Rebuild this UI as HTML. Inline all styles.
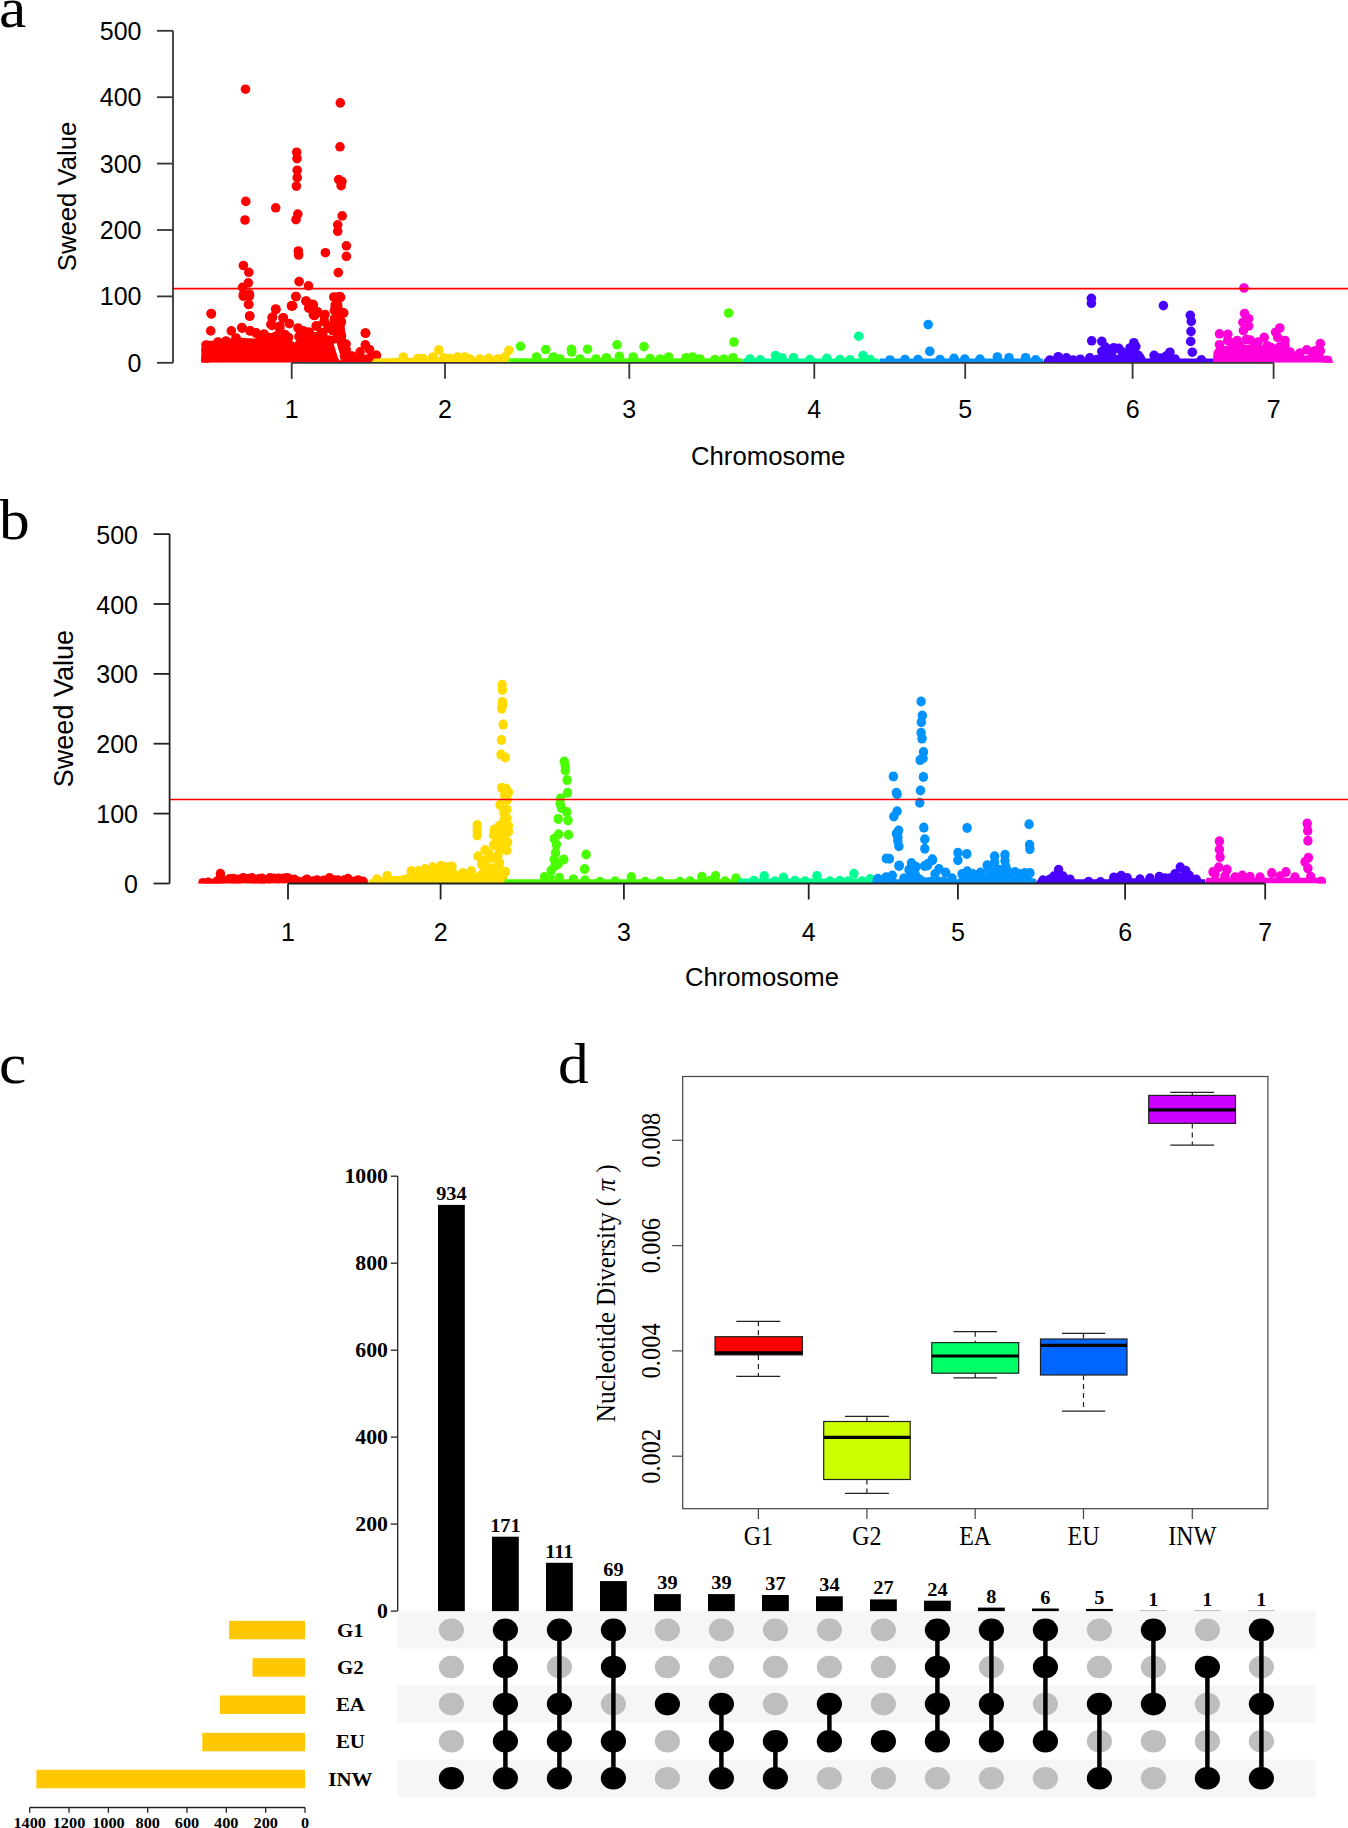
<!DOCTYPE html><html><head><meta charset="utf-8"><title>Figure</title>
<style>html,body{margin:0;padding:0;background:#fff;width:1348px;height:1828px;overflow:hidden}svg{display:block}</style></head><body>
<svg width="1348" height="1828" viewBox="0 0 1348 1828">
<rect width="1348" height="1828" fill="#fff"/>
<text transform="translate(-1 27.4) scale(1.0600 1.0000)" font-family='"Liberation Serif", serif' font-size="58" text-anchor="start" fill="#000">a</text>
<text transform="translate(-1 539) scale(1.0600 1.0000)" font-family='"Liberation Serif", serif' font-size="58" text-anchor="start" fill="#000">b</text>
<text transform="translate(-1 1083) scale(1.0600 1.0000)" font-family='"Liberation Serif", serif' font-size="58" text-anchor="start" fill="#000">c</text>
<text transform="translate(558 1083.4) scale(1.0600 1.0000)" font-family='"Liberation Serif", serif' font-size="58" text-anchor="start" fill="#000">d</text>
<clipPath id="clipA"><rect x="173" y="30.8" width="1175" height="332"/></clipPath>
<g clip-path="url(#clipA)">
<polygon points="201,362.8 201.5,348 203,343 206,341 215,340.5 228,339.5 236,336 243,338 255,338.5 262,338 266,334 275,334 285,336 290,339.5 294.5,342.5 298,339 302,335 310,332 320,332 326,335 333,336 335,320 338,302 342,302 344,320 346,340 350,350 356,357 362,355 370,354 378,356 380,362.8" fill="#FF0000"/>
<polygon points="333.6,343.5 336.8,343.3 338.6,350 341.2,357.5 340.2,361 338.2,358.5 335.8,351" fill="#fff"/>
<g fill="#FF0000"><circle cx="245.5" cy="89.2" r="4.8"/><circle cx="340.3" cy="102.9" r="4.8"/><circle cx="340" cy="146.8" r="4.8"/><circle cx="296.7" cy="152.2" r="4.8"/><circle cx="297" cy="158.6" r="4.8"/><circle cx="297.2" cy="170.2" r="4.8"/><circle cx="297.2" cy="177.7" r="4.8"/><circle cx="296.4" cy="186.1" r="4.8"/><circle cx="338.7" cy="179.6" r="4.8"/><circle cx="341.9" cy="181.5" r="4.8"/><circle cx="341.1" cy="185.7" r="4.8"/><circle cx="245.8" cy="201.4" r="4.8"/><circle cx="275.7" cy="207.8" r="4.8"/><circle cx="245" cy="220" r="4.8"/><circle cx="297.8" cy="214.1" r="4.8"/><circle cx="296" cy="219.6" r="4.8"/><circle cx="342.2" cy="215.9" r="4.8"/><circle cx="337.7" cy="224.8" r="4.8"/><circle cx="337.7" cy="231.3" r="4.8"/><circle cx="346.4" cy="245.8" r="4.8"/><circle cx="346.4" cy="256.4" r="4.8"/><circle cx="325.4" cy="252.7" r="4.8"/><circle cx="298.3" cy="251" r="4.8"/><circle cx="298.6" cy="255" r="4.8"/><circle cx="338.3" cy="272.6" r="4.8"/><circle cx="243.4" cy="265.5" r="4.8"/><circle cx="248.8" cy="272.3" r="4.8"/><circle cx="248.3" cy="282.9" r="4.8"/><circle cx="242.6" cy="287.3" r="4.8"/><circle cx="243.4" cy="294.5" r="4.8"/><circle cx="249.4" cy="294" r="4.8"/><circle cx="248.6" cy="304.2" r="4.8"/><circle cx="249.6" cy="316" r="4.8"/><circle cx="299.1" cy="281.6" r="4.8"/><circle cx="308.5" cy="285.8" r="4.8"/><circle cx="295.9" cy="296.5" r="4.8"/><circle cx="291.5" cy="305.8" r="4.8"/><circle cx="333.8" cy="297" r="4.8"/><circle cx="339.8" cy="296.5" r="4.8"/><circle cx="306.1" cy="301" r="4.8"/><circle cx="312.8" cy="304.2" r="4.8"/><circle cx="311.2" cy="308.2" r="4.8"/><circle cx="317.7" cy="312.3" r="4.8"/><circle cx="314.5" cy="315.5" r="4.8"/><circle cx="324.1" cy="315.5" r="4.8"/><circle cx="324.1" cy="321.2" r="4.8"/><circle cx="342.7" cy="313.1" r="4.8"/><circle cx="341.1" cy="322" r="4.8"/><circle cx="335.4" cy="307.4" r="4.8"/><circle cx="334.6" cy="318.7" r="4.8"/><circle cx="211.1" cy="313.6" r="4.8"/><circle cx="210.7" cy="330.9" r="4.8"/><circle cx="275.7" cy="309" r="4.8"/><circle cx="272.5" cy="317.1" r="4.8"/><circle cx="283" cy="317.9" r="4.8"/><circle cx="289.4" cy="323.6" r="4.8"/><circle cx="270.9" cy="324.4" r="4.8"/><circle cx="231.3" cy="330.9" r="4.8"/><circle cx="241.8" cy="327.6" r="4.8"/><circle cx="249.9" cy="330.9" r="4.8"/><circle cx="256.3" cy="333.3" r="4.8"/><circle cx="365.3" cy="333" r="4.8"/><circle cx="365.3" cy="344.9" r="4.8"/><circle cx="375.8" cy="355.4" r="4.8"/><circle cx="340.3" cy="334.9" r="4.8"/><circle cx="345.1" cy="344.6" r="4.8"/><circle cx="316.1" cy="326" r="4.8"/><circle cx="322.5" cy="332.5" r="4.8"/><circle cx="303.2" cy="330.9" r="4.8"/><circle cx="300.7" cy="333.3" r="4.8"/><circle cx="211.4" cy="313.9" r="4.8"/><circle cx="242.1" cy="328.1" r="4.8"/><circle cx="250.3" cy="330.8" r="4.8"/><circle cx="256.1" cy="332.8" r="4.8"/><circle cx="248.7" cy="304.5" r="4.8"/><circle cx="249.8" cy="316" r="4.8"/><circle cx="243.3" cy="296.2" r="4.8"/><circle cx="249.5" cy="295.8" r="4.8"/><circle cx="276" cy="309.6" r="4.8"/><circle cx="272.1" cy="318" r="4.8"/><circle cx="283.4" cy="318" r="4.8"/><circle cx="272.1" cy="325.4" r="4.8"/><circle cx="269.8" cy="337.8" r="4.8"/><circle cx="291.6" cy="305.9" r="4.8"/><circle cx="295.9" cy="296.6" r="4.8"/><circle cx="260.4" cy="341.7" r="4.8"/><circle cx="306" cy="301.2" r="4.8"/><circle cx="313.4" cy="305.1" r="4.8"/><circle cx="292.7" cy="305.9" r="4.8"/><circle cx="308.7" cy="308.2" r="4.8"/><circle cx="317.3" cy="311.7" r="4.8"/><circle cx="313.4" cy="314.9" r="4.8"/><circle cx="325" cy="314.5" r="4.8"/><circle cx="324.7" cy="321.9" r="4.8"/><circle cx="336.7" cy="297.3" r="4.8"/><circle cx="340.6" cy="297.3" r="4.8"/><circle cx="335.2" cy="305.1" r="4.8"/><circle cx="334.4" cy="310.6" r="4.8"/><circle cx="343.7" cy="312.9" r="4.8"/><circle cx="341.4" cy="321.9" r="4.8"/><circle cx="333.6" cy="323.8" r="4.8"/><circle cx="332.8" cy="330.8" r="4.8"/><circle cx="341.4" cy="335.5" r="4.8"/><circle cx="316.9" cy="325.8" r="4.8"/><circle cx="322.7" cy="333.2" r="4.8"/><circle cx="303.6" cy="331.6" r="4.8"/><circle cx="308.7" cy="332.4" r="4.8"/><circle cx="365.6" cy="333.2" r="4.8"/><circle cx="369.5" cy="349.5" r="4.8"/><circle cx="360.1" cy="351.9" r="4.8"/><circle cx="376.5" cy="355.4" r="4.8"/><circle cx="346.1" cy="344.1" r="4.8"/><circle cx="346.1" cy="349.5" r="4.8"/><circle cx="344.5" cy="356.2" r="4.8"/><circle cx="329" cy="341.7" r="4.8"/><circle cx="206" cy="345" r="4.8"/><circle cx="206" cy="350" r="4.8"/><circle cx="206" cy="359" r="4.8"/><circle cx="218" cy="342" r="4.8"/><circle cx="226" cy="341" r="4.8"/><circle cx="236" cy="338" r="4.8"/><circle cx="264" cy="334" r="4.8"/><circle cx="280" cy="326" r="4.8"/><circle cx="298" cy="328" r="4.8"/><circle cx="328" cy="328" r="4.8"/><circle cx="336" cy="328" r="4.8"/><circle cx="269.3" cy="337.5" r="4.8"/><circle cx="279.7" cy="328.6" r="4.8"/><circle cx="284.9" cy="334.5" r="4.8"/><circle cx="288.6" cy="337.5" r="4.8"/><circle cx="259.6" cy="341.2" r="4.8"/><circle cx="299" cy="336.7" r="4.8"/><circle cx="304.2" cy="331.5" r="4.8"/><circle cx="309.3" cy="332.3" r="4.8"/><circle cx="321.2" cy="333" r="4.8"/><circle cx="276" cy="336" r="4.8"/><circle cx="264" cy="340" r="4.8"/><circle cx="352" cy="356" r="4.8"/><circle cx="372" cy="357" r="4.8"/><circle cx="357" cy="360" r="4.8"/></g>
<polygon points="371,362.8 374,358.5 380,358.5 395,358 420,357.5 450,357.5 480,358 505,358 509,358.5 510,362.8" fill="#FFDB00"/>
<g fill="#FFDB00"><circle cx="403.3" cy="357" r="4.8"/><circle cx="438.8" cy="349.9" r="4.8"/><circle cx="443.8" cy="357.7" r="4.8"/><circle cx="457.6" cy="357" r="4.8"/><circle cx="464.8" cy="357" r="4.8"/><circle cx="488.7" cy="358.4" r="4.8"/><circle cx="508.9" cy="350.3" r="4.8"/><circle cx="433" cy="357" r="4.8"/><circle cx="418" cy="358.5" r="4.8"/><circle cx="423" cy="358.5" r="4.8"/><circle cx="470" cy="359" r="4.8"/><circle cx="498" cy="359" r="4.8"/><circle cx="505" cy="357" r="4.8"/><circle cx="450" cy="358.5" r="4.8"/><circle cx="480" cy="359" r="4.8"/></g>
<polygon points="508,362.8 509,358.5 510,358.3 741,358.3 742,358.5 743,362.8" fill="#49FF00"/>
<g fill="#49FF00"><circle cx="520.5" cy="346.3" r="4.8"/><circle cx="545.8" cy="349.5" r="4.8"/><circle cx="536.4" cy="357" r="4.8"/><circle cx="553" cy="357.7" r="4.8"/><circle cx="728.6" cy="313" r="4.8"/><circle cx="734" cy="342" r="4.8"/><circle cx="571.4" cy="349.2" r="4.8"/><circle cx="587.6" cy="349.2" r="4.8"/><circle cx="617" cy="344.8" r="4.8"/><circle cx="644" cy="346.6" r="4.8"/><circle cx="571.7" cy="352" r="4.8"/><circle cx="553.6" cy="357" r="4.8"/><circle cx="606.4" cy="357.7" r="4.8"/><circle cx="619.4" cy="356.2" r="4.8"/><circle cx="633.2" cy="357" r="4.8"/><circle cx="668.6" cy="357" r="4.8"/><circle cx="692.5" cy="357" r="4.8"/><circle cx="686" cy="357.7" r="4.8"/><circle cx="733" cy="357.7" r="4.8"/><circle cx="560" cy="359" r="4.8"/><circle cx="580" cy="359" r="4.8"/><circle cx="596" cy="359" r="4.8"/><circle cx="650" cy="358.5" r="4.8"/><circle cx="660" cy="359" r="4.8"/><circle cx="700" cy="359" r="4.8"/><circle cx="715" cy="359.5" r="4.8"/><circle cx="724" cy="359" r="4.8"/></g>
<polygon points="742,362.8 743,358.5 744,358.5 877.5,358.5 878.5,358.5 879.5,362.8" fill="#00FF92"/>
<g fill="#00FF92"><circle cx="858.7" cy="336.2" r="4.8"/><circle cx="863" cy="355.5" r="4.8"/><circle cx="775.5" cy="355.5" r="4.8"/><circle cx="782" cy="357.7" r="4.8"/><circle cx="793.6" cy="357.7" r="4.8"/><circle cx="826.9" cy="358.4" r="4.8"/><circle cx="850" cy="359.9" r="4.8"/><circle cx="760.3" cy="359.9" r="4.8"/><circle cx="750" cy="359" r="4.8"/><circle cx="810" cy="359.5" r="4.8"/><circle cx="840" cy="359.5" r="4.8"/><circle cx="870" cy="359.5" r="4.8"/></g>
<polygon points="879,362.8 880,358.5 881,358.5 1041.5,358.5 1042.5,358.5 1043.5,362.8" fill="#0092FF"/>
<g fill="#0092FF"><circle cx="928.2" cy="324.6" r="4.8"/><circle cx="929.8" cy="351.4" r="4.8"/><circle cx="954" cy="358.4" r="4.8"/><circle cx="964.8" cy="359.1" r="4.8"/><circle cx="980" cy="359.1" r="4.8"/><circle cx="997.4" cy="357" r="4.8"/><circle cx="1009" cy="357.7" r="4.8"/><circle cx="1025.6" cy="357.7" r="4.8"/><circle cx="1035.7" cy="359.9" r="4.8"/><circle cx="890" cy="360" r="4.8"/><circle cx="905" cy="359.5" r="4.8"/><circle cx="918" cy="359.5" r="4.8"/><circle cx="940" cy="359.5" r="4.8"/></g>
<polygon points="1043,362.8 1044.5,358.5 1098,358.5 1100,355 1120,355 1128,353 1142,354 1146,358.5 1160,358 1170,357 1180,358.5 1213.6,358.5 1214,362.8" fill="#4900FF"/>
<g fill="#4900FF"><circle cx="1091.4" cy="298.3" r="4.8"/><circle cx="1091.4" cy="303.3" r="4.8"/><circle cx="1163.4" cy="305.6" r="4.8"/><circle cx="1190.3" cy="315.4" r="4.8"/><circle cx="1191.3" cy="321.3" r="4.8"/><circle cx="1191" cy="331.4" r="4.8"/><circle cx="1190.7" cy="341.4" r="4.8"/><circle cx="1192.3" cy="352.2" r="4.8"/><circle cx="1091.7" cy="340.8" r="4.8"/><circle cx="1101.8" cy="341.4" r="4.8"/><circle cx="1105.5" cy="347.1" r="4.8"/><circle cx="1113.7" cy="347.7" r="4.8"/><circle cx="1118.8" cy="348.4" r="4.8"/><circle cx="1101.8" cy="351.5" r="4.8"/><circle cx="1133.9" cy="342.7" r="4.8"/><circle cx="1135.8" cy="346.5" r="4.8"/><circle cx="1133.3" cy="352.2" r="4.8"/><circle cx="1138.3" cy="355.4" r="4.8"/><circle cx="1154.1" cy="355.4" r="4.8"/><circle cx="1169.9" cy="352.2" r="4.8"/><circle cx="1166.1" cy="356.1" r="4.8"/><circle cx="1058.2" cy="356.7" r="4.8"/><circle cx="1066.4" cy="357.9" r="4.8"/><circle cx="1080.3" cy="359.2" r="4.8"/><circle cx="1089.8" cy="357.9" r="4.8"/><circle cx="1201.4" cy="359.8" r="4.8"/><circle cx="1108" cy="352" r="4.8"/><circle cx="1125" cy="355.5" r="4.8"/><circle cx="1130" cy="348" r="4.8"/><circle cx="1140" cy="358" r="4.8"/><circle cx="1160" cy="358" r="4.8"/><circle cx="1175" cy="359" r="4.8"/><circle cx="1050" cy="360" r="4.8"/><circle cx="1073" cy="360" r="4.8"/><circle cx="1097" cy="359.5" r="4.8"/><circle cx="1112" cy="352" r="4.8"/><circle cx="1122" cy="352" r="4.8"/></g>
<polygon points="1213,362.8 1213.5,352 1216,348 1225,346 1235,344 1250,345 1260,345 1270,346 1280,348 1288,350 1292,356 1300,356 1310,355 1320,354 1328,357 1334.3,362.8" fill="#FF00DB"/>
<g fill="#FF00DB"><circle cx="1244" cy="288" r="4.8"/><circle cx="1244.5" cy="313.5" r="4.8"/><circle cx="1248.6" cy="318.7" r="4.8"/><circle cx="1242.9" cy="322.3" r="4.8"/><circle cx="1248.6" cy="326" r="4.8"/><circle cx="1243.4" cy="330.6" r="4.8"/><circle cx="1219.5" cy="333.8" r="4.8"/><circle cx="1227.8" cy="334.3" r="4.8"/><circle cx="1219.5" cy="344.7" r="4.8"/><circle cx="1227.8" cy="340.5" r="4.8"/><circle cx="1237.2" cy="340.5" r="4.8"/><circle cx="1246.5" cy="339.5" r="4.8"/><circle cx="1264.2" cy="337.4" r="4.8"/><circle cx="1254.8" cy="343.6" r="4.8"/><circle cx="1279.8" cy="328" r="4.8"/><circle cx="1275.6" cy="332.2" r="4.8"/><circle cx="1277.7" cy="337.4" r="4.8"/><circle cx="1285" cy="340.5" r="4.8"/><circle cx="1285" cy="345.7" r="4.8"/><circle cx="1279.8" cy="346.7" r="4.8"/><circle cx="1296.4" cy="356" r="4.8"/><circle cx="1306.8" cy="349.8" r="4.8"/><circle cx="1320.3" cy="343.6" r="4.8"/><circle cx="1315.1" cy="350.9" r="4.8"/><circle cx="1320.3" cy="350.9" r="4.8"/><circle cx="1327.5" cy="360.2" r="4.8"/><circle cx="1218.5" cy="357" r="4.8"/><circle cx="1267.3" cy="345.7" r="4.8"/><circle cx="1271.5" cy="347.8" r="4.8"/><circle cx="1232" cy="343" r="4.8"/><circle cx="1240" cy="346" r="4.8"/><circle cx="1258" cy="342" r="4.8"/><circle cx="1250" cy="340" r="4.8"/><circle cx="1290" cy="352" r="4.8"/><circle cx="1300" cy="353" r="4.8"/><circle cx="1312" cy="352" r="4.8"/></g>
</g>
<line x1="173" y1="288.6" x2="1348" y2="288.6" stroke="#FF0000" stroke-width="1.7"/>
<g stroke="#363636" stroke-width="1.8" fill="none">
<line x1="173" y1="30.8" x2="173" y2="362.8"/>
<line x1="157" y1="362.8" x2="173" y2="362.8"/>
<line x1="157" y1="296.4" x2="173" y2="296.4"/>
<line x1="157" y1="230" x2="173" y2="230"/>
<line x1="157" y1="163.6" x2="173" y2="163.6"/>
<line x1="157" y1="97.2" x2="173" y2="97.2"/>
<line x1="157" y1="30.8" x2="173" y2="30.8"/>
<line x1="291.7" y1="362.8" x2="1273.6" y2="362.8"/>
<line x1="291.7" y1="362.8" x2="291.7" y2="378.8"/>
<line x1="445" y1="362.8" x2="445" y2="378.8"/>
<line x1="629.3" y1="362.8" x2="629.3" y2="378.8"/>
<line x1="814.3" y1="362.8" x2="814.3" y2="378.8"/>
<line x1="965.2" y1="362.8" x2="965.2" y2="378.8"/>
<line x1="1132.6" y1="362.8" x2="1132.6" y2="378.8"/>
<line x1="1273.6" y1="362.8" x2="1273.6" y2="378.8"/>
</g>
<text transform="translate(141.5 371.8)" font-family='"Liberation Sans", sans-serif' font-size="25" text-anchor="end" fill="#000">0</text>
<text transform="translate(141.5 305.4)" font-family='"Liberation Sans", sans-serif' font-size="25" text-anchor="end" fill="#000">100</text>
<text transform="translate(141.5 239)" font-family='"Liberation Sans", sans-serif' font-size="25" text-anchor="end" fill="#000">200</text>
<text transform="translate(141.5 172.6)" font-family='"Liberation Sans", sans-serif' font-size="25" text-anchor="end" fill="#000">300</text>
<text transform="translate(141.5 106.2)" font-family='"Liberation Sans", sans-serif' font-size="25" text-anchor="end" fill="#000">400</text>
<text transform="translate(141.5 39.8)" font-family='"Liberation Sans", sans-serif' font-size="25" text-anchor="end" fill="#000">500</text>
<text transform="translate(291.7 418.4)" font-family='"Liberation Sans", sans-serif' font-size="25" text-anchor="middle" fill="#000">1</text>
<text transform="translate(445 418.4)" font-family='"Liberation Sans", sans-serif' font-size="25" text-anchor="middle" fill="#000">2</text>
<text transform="translate(629.3 418.4)" font-family='"Liberation Sans", sans-serif' font-size="25" text-anchor="middle" fill="#000">3</text>
<text transform="translate(814.3 418.4)" font-family='"Liberation Sans", sans-serif' font-size="25" text-anchor="middle" fill="#000">4</text>
<text transform="translate(965.2 418.4)" font-family='"Liberation Sans", sans-serif' font-size="25" text-anchor="middle" fill="#000">5</text>
<text transform="translate(1132.6 418.4)" font-family='"Liberation Sans", sans-serif' font-size="25" text-anchor="middle" fill="#000">6</text>
<text transform="translate(1273.6 418.4)" font-family='"Liberation Sans", sans-serif' font-size="25" text-anchor="middle" fill="#000">7</text>
<text transform="translate(768.2 465) scale(1.0300 1.0000)" font-family='"Liberation Sans", sans-serif' font-size="25" text-anchor="middle" fill="#000">Chromosome</text>
<text transform="translate(75.5 196.5) rotate(-90) scale(1.0280 1.0000)" font-family='"Liberation Sans", sans-serif' font-size="25" text-anchor="middle" fill="#000">Sweed Value</text>
<clipPath id="clipB"><rect x="169.6" y="534.1" width="1178.4" height="349.4"/></clipPath>
<g clip-path="url(#clipB)">
<polygon points="198.5,883.5 199.5,879.2 205,879.2 215,879 225,878.5 294,878.5 300,879.2 366,879.2 369.5,883.5" fill="#FF0000"/>
<g fill="#FF0000"><ellipse cx="203" cy="882.9" rx="4.7" ry="5"/><ellipse cx="208.2" cy="882.6" rx="4.7" ry="5"/><ellipse cx="213.8" cy="883.2" rx="4.7" ry="5"/><ellipse cx="217.5" cy="881" rx="4.7" ry="5"/><ellipse cx="223" cy="880.3" rx="4.7" ry="5"/><ellipse cx="229.5" cy="879" rx="4.7" ry="5"/><ellipse cx="234.2" cy="879" rx="4.7" ry="5"/><ellipse cx="238.8" cy="879.5" rx="4.7" ry="5"/><ellipse cx="243.8" cy="878.5" rx="4.7" ry="5"/><ellipse cx="248.5" cy="878.7" rx="4.7" ry="5"/><ellipse cx="253.8" cy="879.6" rx="4.7" ry="5"/><ellipse cx="259" cy="878.9" rx="4.7" ry="5"/><ellipse cx="263.1" cy="879.7" rx="4.7" ry="5"/><ellipse cx="269.2" cy="879" rx="4.7" ry="5"/><ellipse cx="273.9" cy="878.5" rx="4.7" ry="5"/><ellipse cx="278.9" cy="878.4" rx="4.7" ry="5"/><ellipse cx="283.3" cy="878.6" rx="4.7" ry="5"/><ellipse cx="288.4" cy="878.4" rx="4.7" ry="5"/><ellipse cx="294.3" cy="879.6" rx="4.7" ry="5"/><ellipse cx="297.8" cy="881.4" rx="4.7" ry="5"/><ellipse cx="304.4" cy="881.1" rx="4.7" ry="5"/><ellipse cx="308.8" cy="881.3" rx="4.7" ry="5"/><ellipse cx="313.5" cy="881.2" rx="4.7" ry="5"/><ellipse cx="318.2" cy="880.9" rx="4.7" ry="5"/><ellipse cx="323.7" cy="880.4" rx="4.7" ry="5"/><ellipse cx="328.9" cy="880.4" rx="4.7" ry="5"/><ellipse cx="334.2" cy="880.3" rx="4.7" ry="5"/><ellipse cx="338.8" cy="881.5" rx="4.7" ry="5"/><ellipse cx="344.2" cy="880.3" rx="4.7" ry="5"/><ellipse cx="349.3" cy="880.9" rx="4.7" ry="5"/><ellipse cx="353.9" cy="881.4" rx="4.7" ry="5"/><ellipse cx="359.2" cy="880.9" rx="4.7" ry="5"/><ellipse cx="363.1" cy="881.6" rx="4.7" ry="5"/><ellipse cx="220.4" cy="873.8" rx="4.7" ry="5"/><ellipse cx="243" cy="878" rx="4.7" ry="5"/><ellipse cx="252" cy="878" rx="4.7" ry="5"/><ellipse cx="270" cy="878" rx="4.7" ry="5"/><ellipse cx="287" cy="878" rx="4.7" ry="5"/><ellipse cx="307" cy="879.4" rx="4.7" ry="5"/><ellipse cx="329.5" cy="878" rx="4.7" ry="5"/><ellipse cx="348" cy="878.7" rx="4.7" ry="5"/><ellipse cx="233" cy="878.7" rx="4.7" ry="5"/><ellipse cx="262" cy="878.5" rx="4.7" ry="5"/><ellipse cx="278" cy="878.7" rx="4.7" ry="5"/><ellipse cx="317" cy="880.2" rx="4.7" ry="5"/><ellipse cx="338" cy="880.2" rx="4.7" ry="5"/><ellipse cx="358" cy="880.2" rx="4.7" ry="5"/></g>
<polygon points="367,883.5 370,879.2 380,877.5 390,876 400,876 410,873 420,871.5 430,870 440,869 455,869 460,872 475,874 480,870 485,865 495,863 503,866 507,872 508,883.5" fill="#FFDB00"/>
<g fill="#FFDB00"><ellipse cx="502.1" cy="684.8" rx="4.7" ry="5"/><ellipse cx="502.4" cy="690" rx="4.7" ry="5"/><ellipse cx="502.4" cy="701.9" rx="4.7" ry="5"/><ellipse cx="502.7" cy="704.9" rx="4.7" ry="5"/><ellipse cx="501.7" cy="708.6" rx="4.7" ry="5"/><ellipse cx="503.2" cy="724.6" rx="4.7" ry="5"/><ellipse cx="501.4" cy="740" rx="4.7" ry="5"/><ellipse cx="501" cy="754.6" rx="4.7" ry="5"/><ellipse cx="505.4" cy="757.5" rx="4.7" ry="5"/><ellipse cx="501.7" cy="787.7" rx="4.7" ry="5"/><ellipse cx="506.1" cy="788.7" rx="4.7" ry="5"/><ellipse cx="508.4" cy="792.4" rx="4.7" ry="5"/><ellipse cx="504.7" cy="795.4" rx="4.7" ry="5"/><ellipse cx="506.9" cy="809.5" rx="4.7" ry="5"/><ellipse cx="503.9" cy="812.4" rx="4.7" ry="5"/><ellipse cx="506.9" cy="818.4" rx="4.7" ry="5"/><ellipse cx="508.4" cy="825.8" rx="4.7" ry="5"/><ellipse cx="508.4" cy="831.7" rx="4.7" ry="5"/><ellipse cx="499.5" cy="825.8" rx="4.7" ry="5"/><ellipse cx="494.3" cy="829.5" rx="4.7" ry="5"/><ellipse cx="493.5" cy="834.7" rx="4.7" ry="5"/><ellipse cx="499.5" cy="834.7" rx="4.7" ry="5"/><ellipse cx="502.4" cy="839.1" rx="4.7" ry="5"/><ellipse cx="507.6" cy="842.1" rx="4.7" ry="5"/><ellipse cx="493.5" cy="845.1" rx="4.7" ry="5"/><ellipse cx="506.9" cy="850.3" rx="4.7" ry="5"/><ellipse cx="477.2" cy="825" rx="4.7" ry="5"/><ellipse cx="477.2" cy="830.2" rx="4.7" ry="5"/><ellipse cx="477.2" cy="835.4" rx="4.7" ry="5"/><ellipse cx="478" cy="856.2" rx="4.7" ry="5"/><ellipse cx="489.1" cy="854" rx="4.7" ry="5"/><ellipse cx="498" cy="855.5" rx="4.7" ry="5"/><ellipse cx="481.7" cy="864.4" rx="4.7" ry="5"/><ellipse cx="499.5" cy="862.9" rx="4.7" ry="5"/><ellipse cx="505.4" cy="871.8" rx="4.7" ry="5"/><ellipse cx="490.6" cy="868.8" rx="4.7" ry="5"/><ellipse cx="387.2" cy="875.9" rx="4.7" ry="5"/><ellipse cx="411.2" cy="871" rx="4.7" ry="5"/><ellipse cx="432.7" cy="867.3" rx="4.7" ry="5"/><ellipse cx="440.9" cy="865.8" rx="4.7" ry="5"/><ellipse cx="452" cy="866.6" rx="4.7" ry="5"/><ellipse cx="471.3" cy="871" rx="4.7" ry="5"/><ellipse cx="463" cy="873" rx="4.7" ry="5"/><ellipse cx="486" cy="860" rx="4.7" ry="5"/><ellipse cx="495" cy="868" rx="4.7" ry="5"/><ellipse cx="503" cy="845" rx="4.7" ry="5"/><ellipse cx="497" cy="840" rx="4.7" ry="5"/><ellipse cx="500" cy="830" rx="4.7" ry="5"/><ellipse cx="504" cy="820" rx="4.7" ry="5"/><ellipse cx="485" cy="850" rx="4.7" ry="5"/><ellipse cx="492" cy="858" rx="4.7" ry="5"/><ellipse cx="500" cy="850" rx="4.7" ry="5"/><ellipse cx="496" cy="846" rx="4.7" ry="5"/><ellipse cx="505" cy="835" rx="4.7" ry="5"/><ellipse cx="500" cy="805" rx="4.7" ry="5"/><ellipse cx="507" cy="800" rx="4.7" ry="5"/><ellipse cx="425" cy="869" rx="4.7" ry="5"/><ellipse cx="447" cy="867" rx="4.7" ry="5"/><ellipse cx="418" cy="871" rx="4.7" ry="5"/><ellipse cx="377" cy="879.2" rx="4.7" ry="5"/></g>
<polygon points="504,883.5 505,879.2 506,879.2 736,879.2 737,879.2 738,883.5" fill="#49FF00"/>
<g fill="#49FF00"><ellipse cx="564.2" cy="761.5" rx="4.7" ry="5"/><ellipse cx="565.3" cy="766" rx="4.7" ry="5"/><ellipse cx="565.3" cy="770.4" rx="4.7" ry="5"/><ellipse cx="567.1" cy="780.1" rx="4.7" ry="5"/><ellipse cx="567.5" cy="792.7" rx="4.7" ry="5"/><ellipse cx="560.5" cy="798.6" rx="4.7" ry="5"/><ellipse cx="560.1" cy="803.8" rx="4.7" ry="5"/><ellipse cx="561.6" cy="808.2" rx="4.7" ry="5"/><ellipse cx="566.8" cy="812" rx="4.7" ry="5"/><ellipse cx="558.2" cy="818.9" rx="4.7" ry="5"/><ellipse cx="568" cy="820.4" rx="4.7" ry="5"/><ellipse cx="558.6" cy="834.2" rx="4.7" ry="5"/><ellipse cx="568.5" cy="834.7" rx="4.7" ry="5"/><ellipse cx="554.2" cy="838.7" rx="4.7" ry="5"/><ellipse cx="556.4" cy="844.6" rx="4.7" ry="5"/><ellipse cx="555.6" cy="852.8" rx="4.7" ry="5"/><ellipse cx="554.2" cy="859.4" rx="4.7" ry="5"/><ellipse cx="563.8" cy="859.4" rx="4.7" ry="5"/><ellipse cx="558.2" cy="863.9" rx="4.7" ry="5"/><ellipse cx="551.2" cy="870.6" rx="4.7" ry="5"/><ellipse cx="586.1" cy="854.5" rx="4.7" ry="5"/><ellipse cx="584.6" cy="869.1" rx="4.7" ry="5"/><ellipse cx="544.5" cy="877" rx="4.7" ry="5"/><ellipse cx="559.3" cy="877.7" rx="4.7" ry="5"/><ellipse cx="573.4" cy="879.2" rx="4.7" ry="5"/><ellipse cx="631.3" cy="877" rx="4.7" ry="5"/><ellipse cx="701.9" cy="876.8" rx="4.7" ry="5"/><ellipse cx="715.5" cy="876.1" rx="4.7" ry="5"/><ellipse cx="736" cy="878.3" rx="4.7" ry="5"/><ellipse cx="555" cy="866" rx="4.7" ry="5"/><ellipse cx="550" cy="877.2" rx="4.7" ry="5"/><ellipse cx="585" cy="880.2" rx="4.7" ry="5"/><ellipse cx="600" cy="881.7" rx="4.7" ry="5"/><ellipse cx="615" cy="881.2" rx="4.7" ry="5"/><ellipse cx="645" cy="881.7" rx="4.7" ry="5"/><ellipse cx="660" cy="881.2" rx="4.7" ry="5"/><ellipse cx="680" cy="881.7" rx="4.7" ry="5"/><ellipse cx="690" cy="881.2" rx="4.7" ry="5"/><ellipse cx="710" cy="880.7" rx="4.7" ry="5"/><ellipse cx="725" cy="881.2" rx="4.7" ry="5"/></g>
<polygon points="737.5,883.5 738.5,879.2 739.5,878.6 871.5,878.6 872.5,879.2 873.5,883.5" fill="#00FF92"/>
<g fill="#00FF92"><ellipse cx="764.2" cy="876.1" rx="4.7" ry="5"/><ellipse cx="783.5" cy="877.6" rx="4.7" ry="5"/><ellipse cx="816.9" cy="876.1" rx="4.7" ry="5"/><ellipse cx="853.9" cy="873.7" rx="4.7" ry="5"/><ellipse cx="870.3" cy="879.1" rx="4.7" ry="5"/><ellipse cx="754" cy="880.7" rx="4.7" ry="5"/><ellipse cx="775" cy="881.2" rx="4.7" ry="5"/><ellipse cx="795" cy="880.7" rx="4.7" ry="5"/><ellipse cx="805" cy="881.2" rx="4.7" ry="5"/><ellipse cx="830" cy="881.2" rx="4.7" ry="5"/><ellipse cx="840" cy="880.7" rx="4.7" ry="5"/><ellipse cx="848" cy="881.2" rx="4.7" ry="5"/><ellipse cx="862" cy="881.2" rx="4.7" ry="5"/></g>
<polygon points="872.2,883.5 874,879.2 880,879.2 885,879.2 892,878.5 897,879.2 905,879.2 908,872 918,869 920,874 925,877.5 935,876.5 945,877 950,879.2 958,879.2 962,876 970,875.5 980,877 985,874 990,870 995,866 1000,866 1005,870 1010,876.5 1020,877 1030,877 1036,879.2 1037,883.5" fill="#0092FF"/>
<g fill="#0092FF"><ellipse cx="921.1" cy="701.5" rx="4.7" ry="5"/><ellipse cx="922.3" cy="715.6" rx="4.7" ry="5"/><ellipse cx="921.3" cy="722.3" rx="4.7" ry="5"/><ellipse cx="921.1" cy="732.7" rx="4.7" ry="5"/><ellipse cx="922" cy="738.6" rx="4.7" ry="5"/><ellipse cx="923.5" cy="752" rx="4.7" ry="5"/><ellipse cx="923.1" cy="758.3" rx="4.7" ry="5"/><ellipse cx="920.1" cy="760.1" rx="4.7" ry="5"/><ellipse cx="923.4" cy="776.9" rx="4.7" ry="5"/><ellipse cx="920.5" cy="790.5" rx="4.7" ry="5"/><ellipse cx="919.8" cy="802.8" rx="4.7" ry="5"/><ellipse cx="893.4" cy="776.4" rx="4.7" ry="5"/><ellipse cx="896.4" cy="792.8" rx="4.7" ry="5"/><ellipse cx="897.1" cy="794.2" rx="4.7" ry="5"/><ellipse cx="897.1" cy="811.3" rx="4.7" ry="5"/><ellipse cx="893.8" cy="816.5" rx="4.7" ry="5"/><ellipse cx="898.6" cy="830.6" rx="4.7" ry="5"/><ellipse cx="896.4" cy="833.6" rx="4.7" ry="5"/><ellipse cx="897.8" cy="837.3" rx="4.7" ry="5"/><ellipse cx="897.8" cy="841" rx="4.7" ry="5"/><ellipse cx="898.9" cy="846.2" rx="4.7" ry="5"/><ellipse cx="889.4" cy="858.8" rx="4.7" ry="5"/><ellipse cx="899.3" cy="865.5" rx="4.7" ry="5"/><ellipse cx="923.8" cy="827.6" rx="4.7" ry="5"/><ellipse cx="924.8" cy="839.2" rx="4.7" ry="5"/><ellipse cx="924.8" cy="848.8" rx="4.7" ry="5"/><ellipse cx="932.4" cy="860.3" rx="4.7" ry="5"/><ellipse cx="927.5" cy="865.5" rx="4.7" ry="5"/><ellipse cx="967.1" cy="827.9" rx="4.7" ry="5"/><ellipse cx="957.9" cy="852.8" rx="4.7" ry="5"/><ellipse cx="966.8" cy="853.9" rx="4.7" ry="5"/><ellipse cx="957.9" cy="860.3" rx="4.7" ry="5"/><ellipse cx="1029.1" cy="824.2" rx="4.7" ry="5"/><ellipse cx="1029.6" cy="844.7" rx="4.7" ry="5"/><ellipse cx="1029.9" cy="849.1" rx="4.7" ry="5"/><ellipse cx="886.3" cy="858.5" rx="4.7" ry="5"/><ellipse cx="899" cy="865.9" rx="4.7" ry="5"/><ellipse cx="911.5" cy="863" rx="4.7" ry="5"/><ellipse cx="916" cy="866.7" rx="4.7" ry="5"/><ellipse cx="909" cy="869.7" rx="4.7" ry="5"/><ellipse cx="914.5" cy="872.6" rx="4.7" ry="5"/><ellipse cx="927.9" cy="863.7" rx="4.7" ry="5"/><ellipse cx="932.3" cy="859.3" rx="4.7" ry="5"/><ellipse cx="924.5" cy="866" rx="4.7" ry="5"/><ellipse cx="939" cy="869" rx="4.7" ry="5"/><ellipse cx="945.7" cy="872.6" rx="4.7" ry="5"/><ellipse cx="967.2" cy="871.2" rx="4.7" ry="5"/><ellipse cx="980.5" cy="872.6" rx="4.7" ry="5"/><ellipse cx="987.2" cy="865.2" rx="4.7" ry="5"/><ellipse cx="994.6" cy="856.3" rx="4.7" ry="5"/><ellipse cx="994.6" cy="862.3" rx="4.7" ry="5"/><ellipse cx="1005" cy="854.8" rx="4.7" ry="5"/><ellipse cx="1005" cy="860.8" rx="4.7" ry="5"/><ellipse cx="1005.8" cy="866.7" rx="4.7" ry="5"/><ellipse cx="1006.5" cy="869.7" rx="4.7" ry="5"/><ellipse cx="999" cy="869.7" rx="4.7" ry="5"/><ellipse cx="989" cy="869.7" rx="4.7" ry="5"/><ellipse cx="1015" cy="872" rx="4.7" ry="5"/><ellipse cx="1030" cy="873" rx="4.7" ry="5"/><ellipse cx="878" cy="878.7" rx="4.7" ry="5"/><ellipse cx="886" cy="877.2" rx="4.7" ry="5"/><ellipse cx="892.3" cy="875.6" rx="4.7" ry="5"/><ellipse cx="877" cy="880.7" rx="4.7" ry="5"/><ellipse cx="904" cy="878.2" rx="4.7" ry="5"/><ellipse cx="935" cy="874" rx="4.7" ry="5"/><ellipse cx="952" cy="878.2" rx="4.7" ry="5"/><ellipse cx="962" cy="874" rx="4.7" ry="5"/><ellipse cx="973" cy="874" rx="4.7" ry="5"/><ellipse cx="1020" cy="874" rx="4.7" ry="5"/><ellipse cx="1025" cy="873" rx="4.7" ry="5"/><ellipse cx="1010" cy="873" rx="4.7" ry="5"/></g>
<polygon points="1035.6,883.5 1038,879.2 1043,879 1050,878 1055,874 1062,874 1066,879 1075,879.2 1108,879.2 1112,878 1128,878 1150,879 1174,879 1178,872 1190,874 1197,879.2 1205,879.2 1205.5,883.5" fill="#4900FF"/>
<g fill="#4900FF"><ellipse cx="1043" cy="880.2" rx="4.7" ry="5"/><ellipse cx="1050" cy="879.4" rx="4.7" ry="5"/><ellipse cx="1058.6" cy="869.7" rx="4.7" ry="5"/><ellipse cx="1054" cy="876.2" rx="4.7" ry="5"/><ellipse cx="1063" cy="876.2" rx="4.7" ry="5"/><ellipse cx="1070" cy="879.4" rx="4.7" ry="5"/><ellipse cx="1088.6" cy="881.7" rx="4.7" ry="5"/><ellipse cx="1100.5" cy="882" rx="4.7" ry="5"/><ellipse cx="1113.8" cy="877.6" rx="4.7" ry="5"/><ellipse cx="1121.2" cy="875.7" rx="4.7" ry="5"/><ellipse cx="1127.2" cy="878" rx="4.7" ry="5"/><ellipse cx="1117" cy="878.2" rx="4.7" ry="5"/><ellipse cx="1159.3" cy="876.7" rx="4.7" ry="5"/><ellipse cx="1180.3" cy="867.2" rx="4.7" ry="5"/><ellipse cx="1185.7" cy="870.8" rx="4.7" ry="5"/><ellipse cx="1189.2" cy="875.5" rx="4.7" ry="5"/><ellipse cx="1196.3" cy="879.5" rx="4.7" ry="5"/><ellipse cx="1175" cy="874" rx="4.7" ry="5"/><ellipse cx="1150" cy="878.2" rx="4.7" ry="5"/><ellipse cx="1170" cy="878.2" rx="4.7" ry="5"/><ellipse cx="1140" cy="879.2" rx="4.7" ry="5"/><ellipse cx="1165" cy="878.2" rx="4.7" ry="5"/></g>
<polygon points="1205,883.5 1206,879.2 1207,877.8 1324,877.8 1325,879.2 1326,883.5" fill="#FF00DB"/>
<g fill="#FF00DB"><ellipse cx="1219.4" cy="841.3" rx="4.7" ry="5"/><ellipse cx="1219.4" cy="849.5" rx="4.7" ry="5"/><ellipse cx="1220.1" cy="857.1" rx="4.7" ry="5"/><ellipse cx="1218.7" cy="867.2" rx="4.7" ry="5"/><ellipse cx="1227" cy="869.6" rx="4.7" ry="5"/><ellipse cx="1307.2" cy="823.6" rx="4.7" ry="5"/><ellipse cx="1307.7" cy="830.7" rx="4.7" ry="5"/><ellipse cx="1307.9" cy="840.8" rx="4.7" ry="5"/><ellipse cx="1308.4" cy="857.8" rx="4.7" ry="5"/><ellipse cx="1307.9" cy="868.4" rx="4.7" ry="5"/><ellipse cx="1310.7" cy="876.7" rx="4.7" ry="5"/><ellipse cx="1271.8" cy="873.1" rx="4.7" ry="5"/><ellipse cx="1286" cy="872" rx="4.7" ry="5"/><ellipse cx="1242.3" cy="875.5" rx="4.7" ry="5"/><ellipse cx="1321.3" cy="881.4" rx="4.7" ry="5"/><ellipse cx="1215" cy="874" rx="4.7" ry="5"/><ellipse cx="1225" cy="876.2" rx="4.7" ry="5"/><ellipse cx="1235" cy="877.2" rx="4.7" ry="5"/><ellipse cx="1250" cy="876.7" rx="4.7" ry="5"/><ellipse cx="1260" cy="877.2" rx="4.7" ry="5"/><ellipse cx="1280" cy="876.2" rx="4.7" ry="5"/><ellipse cx="1295" cy="877.2" rx="4.7" ry="5"/><ellipse cx="1305" cy="862" rx="4.7" ry="5"/><ellipse cx="1213" cy="872" rx="4.7" ry="5"/></g>
</g>
<line x1="169.6" y1="799.5" x2="1348" y2="799.5" stroke="#FF0000" stroke-width="1.7"/>
<g stroke="#222" stroke-width="1.8" fill="none">
<line x1="169.6" y1="534.1" x2="169.6" y2="883.5"/>
<line x1="153.6" y1="883.5" x2="169.6" y2="883.5"/>
<line x1="153.6" y1="813.6" x2="169.6" y2="813.6"/>
<line x1="153.6" y1="743.7" x2="169.6" y2="743.7"/>
<line x1="153.6" y1="673.9" x2="169.6" y2="673.9"/>
<line x1="153.6" y1="604" x2="169.6" y2="604"/>
<line x1="153.6" y1="534.1" x2="169.6" y2="534.1"/>
<line x1="288" y1="883.5" x2="1265.2" y2="883.5"/>
<line x1="288" y1="883.5" x2="288" y2="899.5"/>
<line x1="440.6" y1="883.5" x2="440.6" y2="899.5"/>
<line x1="623.9" y1="883.5" x2="623.9" y2="899.5"/>
<line x1="808.7" y1="883.5" x2="808.7" y2="899.5"/>
<line x1="957.9" y1="883.5" x2="957.9" y2="899.5"/>
<line x1="1125.1" y1="883.5" x2="1125.1" y2="899.5"/>
<line x1="1265.2" y1="883.5" x2="1265.2" y2="899.5"/>
</g>
<text transform="translate(138 893) scale(1.0000 1.0540)" font-family='"Liberation Sans", sans-serif' font-size="25" text-anchor="end" fill="#000">0</text>
<text transform="translate(138 823.1) scale(1.0000 1.0540)" font-family='"Liberation Sans", sans-serif' font-size="25" text-anchor="end" fill="#000">100</text>
<text transform="translate(138 753.2) scale(1.0000 1.0540)" font-family='"Liberation Sans", sans-serif' font-size="25" text-anchor="end" fill="#000">200</text>
<text transform="translate(138 683.3) scale(1.0000 1.0540)" font-family='"Liberation Sans", sans-serif' font-size="25" text-anchor="end" fill="#000">300</text>
<text transform="translate(138 613.5) scale(1.0000 1.0540)" font-family='"Liberation Sans", sans-serif' font-size="25" text-anchor="end" fill="#000">400</text>
<text transform="translate(138 543.6) scale(1.0000 1.0540)" font-family='"Liberation Sans", sans-serif' font-size="25" text-anchor="end" fill="#000">500</text>
<text transform="translate(288 941) scale(1.0000 1.0540)" font-family='"Liberation Sans", sans-serif' font-size="25" text-anchor="middle" fill="#000">1</text>
<text transform="translate(440.6 941) scale(1.0000 1.0540)" font-family='"Liberation Sans", sans-serif' font-size="25" text-anchor="middle" fill="#000">2</text>
<text transform="translate(623.9 941) scale(1.0000 1.0540)" font-family='"Liberation Sans", sans-serif' font-size="25" text-anchor="middle" fill="#000">3</text>
<text transform="translate(808.7 941) scale(1.0000 1.0540)" font-family='"Liberation Sans", sans-serif' font-size="25" text-anchor="middle" fill="#000">4</text>
<text transform="translate(957.9 941) scale(1.0000 1.0540)" font-family='"Liberation Sans", sans-serif' font-size="25" text-anchor="middle" fill="#000">5</text>
<text transform="translate(1125.1 941) scale(1.0000 1.0540)" font-family='"Liberation Sans", sans-serif' font-size="25" text-anchor="middle" fill="#000">6</text>
<text transform="translate(1265.2 941) scale(1.0000 1.0540)" font-family='"Liberation Sans", sans-serif' font-size="25" text-anchor="middle" fill="#000">7</text>
<text transform="translate(762 985.9) scale(1.0260 1.0540)" font-family='"Liberation Sans", sans-serif' font-size="25" text-anchor="middle" fill="#000">Chromosome</text>
<text transform="translate(72.5 708.6) rotate(-90) scale(1.0800 1.1000)" font-family='"Liberation Sans", sans-serif' font-size="25" text-anchor="middle" fill="#000">Sweed Value</text>
<g stroke="#222" stroke-width="1.3">
<line x1="397.7" y1="1176.1" x2="397.7" y2="1611.1"/>
<line x1="390.8" y1="1611.1" x2="397.7" y2="1611.1"/>
<line x1="390.8" y1="1524.1" x2="397.7" y2="1524.1"/>
<line x1="390.8" y1="1437.1" x2="397.7" y2="1437.1"/>
<line x1="390.8" y1="1350.2" x2="397.7" y2="1350.2"/>
<line x1="390.8" y1="1263.2" x2="397.7" y2="1263.2"/>
<line x1="390.8" y1="1176.2" x2="397.7" y2="1176.2"/>
</g>
<text transform="translate(388 1617.9) scale(1.0900 1.0000)" font-family='"Liberation Serif", serif' font-size="20" font-weight="bold" text-anchor="end" fill="#000">0</text>
<text transform="translate(388 1530.9) scale(1.0900 1.0000)" font-family='"Liberation Serif", serif' font-size="20" font-weight="bold" text-anchor="end" fill="#000">200</text>
<text transform="translate(388 1443.9) scale(1.0900 1.0000)" font-family='"Liberation Serif", serif' font-size="20" font-weight="bold" text-anchor="end" fill="#000">400</text>
<text transform="translate(388 1357) scale(1.0900 1.0000)" font-family='"Liberation Serif", serif' font-size="20" font-weight="bold" text-anchor="end" fill="#000">600</text>
<text transform="translate(388 1270) scale(1.0900 1.0000)" font-family='"Liberation Serif", serif' font-size="20" font-weight="bold" text-anchor="end" fill="#000">800</text>
<text transform="translate(388 1183) scale(1.0900 1.0000)" font-family='"Liberation Serif", serif' font-size="20" font-weight="bold" text-anchor="end" fill="#000">1000</text>
<rect x="397.5" y="1611.4" width="918" height="37.1" fill="#F6F6F6"/>
<rect x="397.5" y="1685.5" width="918" height="37.1" fill="#F6F6F6"/>
<rect x="397.5" y="1759.6" width="918" height="37.1" fill="#F6F6F6"/>
<rect x="438" y="1204.9" width="26.8" height="406.2" fill="#000"/>
<text transform="translate(451.4 1199.9) scale(1.1300 1.0000)" font-family='"Liberation Serif", serif' font-size="18" font-weight="bold" text-anchor="middle" fill="#000">934</text>
<rect x="492" y="1536.7" width="26.8" height="74.4" fill="#000"/>
<text transform="translate(505.4 1531.7) scale(1.1300 1.0000)" font-family='"Liberation Serif", serif' font-size="18" font-weight="bold" text-anchor="middle" fill="#000">171</text>
<rect x="546" y="1562.8" width="26.8" height="48.3" fill="#000"/>
<text transform="translate(559.4 1557.8) scale(1.1300 1.0000)" font-family='"Liberation Serif", serif' font-size="18" font-weight="bold" text-anchor="middle" fill="#000">111</text>
<rect x="600" y="1581.1" width="26.8" height="30" fill="#000"/>
<text transform="translate(613.4 1576.1) scale(1.1300 1.0000)" font-family='"Liberation Serif", serif' font-size="18" font-weight="bold" text-anchor="middle" fill="#000">69</text>
<rect x="654" y="1594.1" width="26.8" height="17" fill="#000"/>
<text transform="translate(667.4 1589.1) scale(1.1300 1.0000)" font-family='"Liberation Serif", serif' font-size="18" font-weight="bold" text-anchor="middle" fill="#000">39</text>
<rect x="708" y="1594.1" width="26.8" height="17" fill="#000"/>
<text transform="translate(721.4 1589.1) scale(1.1300 1.0000)" font-family='"Liberation Serif", serif' font-size="18" font-weight="bold" text-anchor="middle" fill="#000">39</text>
<rect x="762" y="1595" width="26.8" height="16.1" fill="#000"/>
<text transform="translate(775.4 1590) scale(1.1300 1.0000)" font-family='"Liberation Serif", serif' font-size="18" font-weight="bold" text-anchor="middle" fill="#000">37</text>
<rect x="816" y="1596.3" width="26.8" height="14.8" fill="#000"/>
<text transform="translate(829.4 1591.3) scale(1.1300 1.0000)" font-family='"Liberation Serif", serif' font-size="18" font-weight="bold" text-anchor="middle" fill="#000">34</text>
<rect x="870" y="1599.4" width="26.8" height="11.7" fill="#000"/>
<text transform="translate(883.4 1594.4) scale(1.1300 1.0000)" font-family='"Liberation Serif", serif' font-size="18" font-weight="bold" text-anchor="middle" fill="#000">27</text>
<rect x="924" y="1600.7" width="26.8" height="10.4" fill="#000"/>
<text transform="translate(937.4 1595.7) scale(1.1300 1.0000)" font-family='"Liberation Serif", serif' font-size="18" font-weight="bold" text-anchor="middle" fill="#000">24</text>
<rect x="978" y="1607.6" width="26.8" height="3.5" fill="#000"/>
<text transform="translate(991.4 1602.6) scale(1.1300 1.0000)" font-family='"Liberation Serif", serif' font-size="18" font-weight="bold" text-anchor="middle" fill="#000">8</text>
<rect x="1032" y="1608.5" width="26.8" height="2.6" fill="#000"/>
<text transform="translate(1045.4 1603.5) scale(1.1300 1.0000)" font-family='"Liberation Serif", serif' font-size="18" font-weight="bold" text-anchor="middle" fill="#000">6</text>
<rect x="1086" y="1608.9" width="26.8" height="2.2" fill="#000"/>
<text transform="translate(1099.4 1603.9) scale(1.1300 1.0000)" font-family='"Liberation Serif", serif' font-size="18" font-weight="bold" text-anchor="middle" fill="#000">5</text>
<rect x="1140" y="1610.1" width="26.8" height="1" fill="#bbb"/>
<text transform="translate(1153.4 1605.7) scale(1.1300 1.0000)" font-family='"Liberation Serif", serif' font-size="18" font-weight="bold" text-anchor="middle" fill="#000">1</text>
<rect x="1194" y="1610.1" width="26.8" height="1" fill="#bbb"/>
<text transform="translate(1207.4 1605.7) scale(1.1300 1.0000)" font-family='"Liberation Serif", serif' font-size="18" font-weight="bold" text-anchor="middle" fill="#000">1</text>
<rect x="1248" y="1610.1" width="26.8" height="1" fill="#bbb"/>
<text transform="translate(1261.4 1605.7) scale(1.1300 1.0000)" font-family='"Liberation Serif", serif' font-size="18" font-weight="bold" text-anchor="middle" fill="#000">1</text>
<ellipse cx="451.4" cy="1629.9" rx="12.6" ry="11.3" fill="#BEBEBE"/>
<ellipse cx="451.4" cy="1667" rx="12.6" ry="11.3" fill="#BEBEBE"/>
<ellipse cx="451.4" cy="1704.1" rx="12.6" ry="11.3" fill="#BEBEBE"/>
<ellipse cx="451.4" cy="1741.2" rx="12.6" ry="11.3" fill="#BEBEBE"/>
<ellipse cx="451.4" cy="1778.3" rx="12.6" ry="11.3" fill="#000"/>
<line x1="505.4" y1="1629.9" x2="505.4" y2="1778.3" stroke="#000" stroke-width="4.5"/>
<ellipse cx="505.4" cy="1629.9" rx="12.6" ry="11.3" fill="#000"/>
<ellipse cx="505.4" cy="1667" rx="12.6" ry="11.3" fill="#000"/>
<ellipse cx="505.4" cy="1704.1" rx="12.6" ry="11.3" fill="#000"/>
<ellipse cx="505.4" cy="1741.2" rx="12.6" ry="11.3" fill="#000"/>
<ellipse cx="505.4" cy="1778.3" rx="12.6" ry="11.3" fill="#000"/>
<ellipse cx="559.4" cy="1667" rx="12.6" ry="11.3" fill="#BEBEBE"/>
<line x1="559.4" y1="1629.9" x2="559.4" y2="1778.3" stroke="#000" stroke-width="4.5"/>
<ellipse cx="559.4" cy="1629.9" rx="12.6" ry="11.3" fill="#000"/>
<ellipse cx="559.4" cy="1704.1" rx="12.6" ry="11.3" fill="#000"/>
<ellipse cx="559.4" cy="1741.2" rx="12.6" ry="11.3" fill="#000"/>
<ellipse cx="559.4" cy="1778.3" rx="12.6" ry="11.3" fill="#000"/>
<ellipse cx="613.4" cy="1704.1" rx="12.6" ry="11.3" fill="#BEBEBE"/>
<line x1="613.4" y1="1629.9" x2="613.4" y2="1778.3" stroke="#000" stroke-width="4.5"/>
<ellipse cx="613.4" cy="1629.9" rx="12.6" ry="11.3" fill="#000"/>
<ellipse cx="613.4" cy="1667" rx="12.6" ry="11.3" fill="#000"/>
<ellipse cx="613.4" cy="1741.2" rx="12.6" ry="11.3" fill="#000"/>
<ellipse cx="613.4" cy="1778.3" rx="12.6" ry="11.3" fill="#000"/>
<ellipse cx="667.4" cy="1629.9" rx="12.6" ry="11.3" fill="#BEBEBE"/>
<ellipse cx="667.4" cy="1667" rx="12.6" ry="11.3" fill="#BEBEBE"/>
<ellipse cx="667.4" cy="1741.2" rx="12.6" ry="11.3" fill="#BEBEBE"/>
<ellipse cx="667.4" cy="1778.3" rx="12.6" ry="11.3" fill="#BEBEBE"/>
<ellipse cx="667.4" cy="1704.1" rx="12.6" ry="11.3" fill="#000"/>
<ellipse cx="721.4" cy="1629.9" rx="12.6" ry="11.3" fill="#BEBEBE"/>
<ellipse cx="721.4" cy="1667" rx="12.6" ry="11.3" fill="#BEBEBE"/>
<line x1="721.4" y1="1704.1" x2="721.4" y2="1778.3" stroke="#000" stroke-width="4.5"/>
<ellipse cx="721.4" cy="1704.1" rx="12.6" ry="11.3" fill="#000"/>
<ellipse cx="721.4" cy="1741.2" rx="12.6" ry="11.3" fill="#000"/>
<ellipse cx="721.4" cy="1778.3" rx="12.6" ry="11.3" fill="#000"/>
<ellipse cx="775.4" cy="1629.9" rx="12.6" ry="11.3" fill="#BEBEBE"/>
<ellipse cx="775.4" cy="1667" rx="12.6" ry="11.3" fill="#BEBEBE"/>
<ellipse cx="775.4" cy="1704.1" rx="12.6" ry="11.3" fill="#BEBEBE"/>
<line x1="775.4" y1="1741.2" x2="775.4" y2="1778.3" stroke="#000" stroke-width="4.5"/>
<ellipse cx="775.4" cy="1741.2" rx="12.6" ry="11.3" fill="#000"/>
<ellipse cx="775.4" cy="1778.3" rx="12.6" ry="11.3" fill="#000"/>
<ellipse cx="829.4" cy="1629.9" rx="12.6" ry="11.3" fill="#BEBEBE"/>
<ellipse cx="829.4" cy="1667" rx="12.6" ry="11.3" fill="#BEBEBE"/>
<ellipse cx="829.4" cy="1778.3" rx="12.6" ry="11.3" fill="#BEBEBE"/>
<line x1="829.4" y1="1704.1" x2="829.4" y2="1741.2" stroke="#000" stroke-width="4.5"/>
<ellipse cx="829.4" cy="1704.1" rx="12.6" ry="11.3" fill="#000"/>
<ellipse cx="829.4" cy="1741.2" rx="12.6" ry="11.3" fill="#000"/>
<ellipse cx="883.4" cy="1629.9" rx="12.6" ry="11.3" fill="#BEBEBE"/>
<ellipse cx="883.4" cy="1667" rx="12.6" ry="11.3" fill="#BEBEBE"/>
<ellipse cx="883.4" cy="1704.1" rx="12.6" ry="11.3" fill="#BEBEBE"/>
<ellipse cx="883.4" cy="1778.3" rx="12.6" ry="11.3" fill="#BEBEBE"/>
<ellipse cx="883.4" cy="1741.2" rx="12.6" ry="11.3" fill="#000"/>
<ellipse cx="937.4" cy="1778.3" rx="12.6" ry="11.3" fill="#BEBEBE"/>
<line x1="937.4" y1="1629.9" x2="937.4" y2="1741.2" stroke="#000" stroke-width="4.5"/>
<ellipse cx="937.4" cy="1629.9" rx="12.6" ry="11.3" fill="#000"/>
<ellipse cx="937.4" cy="1667" rx="12.6" ry="11.3" fill="#000"/>
<ellipse cx="937.4" cy="1704.1" rx="12.6" ry="11.3" fill="#000"/>
<ellipse cx="937.4" cy="1741.2" rx="12.6" ry="11.3" fill="#000"/>
<ellipse cx="991.4" cy="1667" rx="12.6" ry="11.3" fill="#BEBEBE"/>
<ellipse cx="991.4" cy="1778.3" rx="12.6" ry="11.3" fill="#BEBEBE"/>
<line x1="991.4" y1="1629.9" x2="991.4" y2="1741.2" stroke="#000" stroke-width="4.5"/>
<ellipse cx="991.4" cy="1629.9" rx="12.6" ry="11.3" fill="#000"/>
<ellipse cx="991.4" cy="1704.1" rx="12.6" ry="11.3" fill="#000"/>
<ellipse cx="991.4" cy="1741.2" rx="12.6" ry="11.3" fill="#000"/>
<ellipse cx="1045.4" cy="1704.1" rx="12.6" ry="11.3" fill="#BEBEBE"/>
<ellipse cx="1045.4" cy="1778.3" rx="12.6" ry="11.3" fill="#BEBEBE"/>
<line x1="1045.4" y1="1629.9" x2="1045.4" y2="1741.2" stroke="#000" stroke-width="4.5"/>
<ellipse cx="1045.4" cy="1629.9" rx="12.6" ry="11.3" fill="#000"/>
<ellipse cx="1045.4" cy="1667" rx="12.6" ry="11.3" fill="#000"/>
<ellipse cx="1045.4" cy="1741.2" rx="12.6" ry="11.3" fill="#000"/>
<ellipse cx="1099.4" cy="1629.9" rx="12.6" ry="11.3" fill="#BEBEBE"/>
<ellipse cx="1099.4" cy="1667" rx="12.6" ry="11.3" fill="#BEBEBE"/>
<ellipse cx="1099.4" cy="1741.2" rx="12.6" ry="11.3" fill="#BEBEBE"/>
<line x1="1099.4" y1="1704.1" x2="1099.4" y2="1778.3" stroke="#000" stroke-width="4.5"/>
<ellipse cx="1099.4" cy="1704.1" rx="12.6" ry="11.3" fill="#000"/>
<ellipse cx="1099.4" cy="1778.3" rx="12.6" ry="11.3" fill="#000"/>
<ellipse cx="1153.4" cy="1667" rx="12.6" ry="11.3" fill="#BEBEBE"/>
<ellipse cx="1153.4" cy="1741.2" rx="12.6" ry="11.3" fill="#BEBEBE"/>
<ellipse cx="1153.4" cy="1778.3" rx="12.6" ry="11.3" fill="#BEBEBE"/>
<line x1="1153.4" y1="1629.9" x2="1153.4" y2="1704.1" stroke="#000" stroke-width="4.5"/>
<ellipse cx="1153.4" cy="1629.9" rx="12.6" ry="11.3" fill="#000"/>
<ellipse cx="1153.4" cy="1704.1" rx="12.6" ry="11.3" fill="#000"/>
<ellipse cx="1207.4" cy="1629.9" rx="12.6" ry="11.3" fill="#BEBEBE"/>
<ellipse cx="1207.4" cy="1704.1" rx="12.6" ry="11.3" fill="#BEBEBE"/>
<ellipse cx="1207.4" cy="1741.2" rx="12.6" ry="11.3" fill="#BEBEBE"/>
<line x1="1207.4" y1="1667" x2="1207.4" y2="1778.3" stroke="#000" stroke-width="4.5"/>
<ellipse cx="1207.4" cy="1667" rx="12.6" ry="11.3" fill="#000"/>
<ellipse cx="1207.4" cy="1778.3" rx="12.6" ry="11.3" fill="#000"/>
<ellipse cx="1261.4" cy="1667" rx="12.6" ry="11.3" fill="#BEBEBE"/>
<ellipse cx="1261.4" cy="1741.2" rx="12.6" ry="11.3" fill="#BEBEBE"/>
<line x1="1261.4" y1="1629.9" x2="1261.4" y2="1778.3" stroke="#000" stroke-width="4.5"/>
<ellipse cx="1261.4" cy="1629.9" rx="12.6" ry="11.3" fill="#000"/>
<ellipse cx="1261.4" cy="1704.1" rx="12.6" ry="11.3" fill="#000"/>
<ellipse cx="1261.4" cy="1778.3" rx="12.6" ry="11.3" fill="#000"/>
<text transform="translate(350.4 1637.1) scale(1.1000 1.0000)" font-family='"Liberation Serif", serif' font-size="19" font-weight="bold" text-anchor="middle" fill="#000">G1</text>
<text transform="translate(350.4 1674.2) scale(1.1000 1.0000)" font-family='"Liberation Serif", serif' font-size="19" font-weight="bold" text-anchor="middle" fill="#000">G2</text>
<text transform="translate(350.4 1711.3) scale(1.1000 1.0000)" font-family='"Liberation Serif", serif' font-size="19" font-weight="bold" text-anchor="middle" fill="#000">EA</text>
<text transform="translate(350.4 1748.4) scale(1.1000 1.0000)" font-family='"Liberation Serif", serif' font-size="19" font-weight="bold" text-anchor="middle" fill="#000">EU</text>
<text transform="translate(350.4 1785.5) scale(1.1000 1.0000)" font-family='"Liberation Serif", serif' font-size="19" font-weight="bold" text-anchor="middle" fill="#000">INW</text>
<rect x="229.1" y="1620.8" width="75.9" height="18.5" fill="#FFC800"/>
<rect x="252.5" y="1658.2" width="52.5" height="18.5" fill="#FFC800"/>
<rect x="220" y="1695.5" width="85" height="18.5" fill="#FFC800"/>
<rect x="202.3" y="1732.8" width="102.7" height="18.5" fill="#FFC800"/>
<rect x="36.4" y="1769.8" width="268.6" height="18.5" fill="#FFC800"/>
<g stroke="#222" stroke-width="1.3">
<line x1="29.7" y1="1807.5" x2="305" y2="1807.5"/>
<line x1="305" y1="1807.5" x2="305" y2="1812.8"/>
<line x1="265.7" y1="1807.5" x2="265.7" y2="1812.8"/>
<line x1="226.3" y1="1807.5" x2="226.3" y2="1812.8"/>
<line x1="187" y1="1807.5" x2="187" y2="1812.8"/>
<line x1="147.7" y1="1807.5" x2="147.7" y2="1812.8"/>
<line x1="108.4" y1="1807.5" x2="108.4" y2="1812.8"/>
<line x1="69" y1="1807.5" x2="69" y2="1812.8"/>
<line x1="29.7" y1="1807.5" x2="29.7" y2="1812.8"/>
</g>
<text transform="translate(305 1827.5) scale(1.0850 1.0000)" font-family='"Liberation Serif", serif' font-size="15" font-weight="bold" text-anchor="middle" fill="#000">0</text>
<text transform="translate(265.7 1827.5) scale(1.0850 1.0000)" font-family='"Liberation Serif", serif' font-size="15" font-weight="bold" text-anchor="middle" fill="#000">200</text>
<text transform="translate(226.3 1827.5) scale(1.0850 1.0000)" font-family='"Liberation Serif", serif' font-size="15" font-weight="bold" text-anchor="middle" fill="#000">400</text>
<text transform="translate(187 1827.5) scale(1.0850 1.0000)" font-family='"Liberation Serif", serif' font-size="15" font-weight="bold" text-anchor="middle" fill="#000">600</text>
<text transform="translate(147.7 1827.5) scale(1.0850 1.0000)" font-family='"Liberation Serif", serif' font-size="15" font-weight="bold" text-anchor="middle" fill="#000">800</text>
<text transform="translate(108.4 1827.5) scale(1.0850 1.0000)" font-family='"Liberation Serif", serif' font-size="15" font-weight="bold" text-anchor="middle" fill="#000">1000</text>
<text transform="translate(69 1827.5) scale(1.0850 1.0000)" font-family='"Liberation Serif", serif' font-size="15" font-weight="bold" text-anchor="middle" fill="#000">1200</text>
<text transform="translate(29.7 1827.5) scale(1.0850 1.0000)" font-family='"Liberation Serif", serif' font-size="15" font-weight="bold" text-anchor="middle" fill="#000">1400</text>
<rect x="682.7" y="1076.5" width="585.2" height="432.2" fill="none" stroke="#444" stroke-width="1.2"/>
<g stroke="#444" stroke-width="1.2">
<line x1="672.2" y1="1140.3" x2="682.7" y2="1140.3"/>
<line x1="672.2" y1="1245.6" x2="682.7" y2="1245.6"/>
<line x1="672.2" y1="1350.9" x2="682.7" y2="1350.9"/>
<line x1="672.2" y1="1456.2" x2="682.7" y2="1456.2"/>
<line x1="758.4" y1="1508.7" x2="758.4" y2="1519"/>
<line x1="866.9" y1="1508.7" x2="866.9" y2="1519"/>
<line x1="975.2" y1="1508.7" x2="975.2" y2="1519"/>
<line x1="1083.5" y1="1508.7" x2="1083.5" y2="1519"/>
<line x1="1192.3" y1="1508.7" x2="1192.3" y2="1519"/>
</g>
<text transform="translate(659.8 1140.3) rotate(-90) scale(1.0200 1.1500)" font-family='"Liberation Serif", serif' font-size="24" text-anchor="middle" fill="#000">0.008</text>
<text transform="translate(659.8 1245.6) rotate(-90) scale(1.0200 1.1500)" font-family='"Liberation Serif", serif' font-size="24" text-anchor="middle" fill="#000">0.006</text>
<text transform="translate(659.8 1350.9) rotate(-90) scale(1.0200 1.1500)" font-family='"Liberation Serif", serif' font-size="24" text-anchor="middle" fill="#000">0.004</text>
<text transform="translate(659.8 1456.2) rotate(-90) scale(1.0200 1.1500)" font-family='"Liberation Serif", serif' font-size="24" text-anchor="middle" fill="#000">0.002</text>
<text transform="translate(758.4 1545.2) scale(1.0000 1.1270)" font-family='"Liberation Serif", serif' font-size="24" text-anchor="middle" fill="#000">G1</text>
<text transform="translate(866.9 1545.2) scale(1.0000 1.1270)" font-family='"Liberation Serif", serif' font-size="24" text-anchor="middle" fill="#000">G2</text>
<text transform="translate(975.2 1545.2) scale(1.0000 1.1270)" font-family='"Liberation Serif", serif' font-size="24" text-anchor="middle" fill="#000">EA</text>
<text transform="translate(1083.5 1545.2) scale(1.0000 1.1270)" font-family='"Liberation Serif", serif' font-size="24" text-anchor="middle" fill="#000">EU</text>
<text transform="translate(1192.3 1545.2) scale(1.0000 1.1270)" font-family='"Liberation Serif", serif' font-size="24" text-anchor="middle" fill="#000">INW</text>
<text transform="translate(615.3 1293.3) rotate(-90) scale(1.0460 1.1000)" font-family='"Liberation Serif", serif' font-size="24" text-anchor="middle" fill="#000">Nucleotide Diversity ( <tspan font-style="italic">&#960;</tspan> )</text>
<g stroke="#222" stroke-width="1.2">
<line x1="758.4" y1="1321.3" x2="758.4" y2="1336.7" stroke-dasharray="5,4"/>
<line x1="758.4" y1="1354.9" x2="758.4" y2="1376.3" stroke-dasharray="5,4"/>
<line x1="736.3" y1="1321.3" x2="780.2" y2="1321.3"/>
<line x1="736.3" y1="1376.3" x2="780.2" y2="1376.3"/>
<rect x="715" y="1336.7" width="87.4" height="18.2" fill="#FF0000"/>
</g>
<line x1="715" y1="1352.9" x2="802.4" y2="1352.9" stroke="#000" stroke-width="3.2"/>
<g stroke="#222" stroke-width="1.2">
<line x1="866.9" y1="1416.4" x2="866.9" y2="1421.5" stroke-dasharray="5,4"/>
<line x1="866.9" y1="1479.5" x2="866.9" y2="1493.3" stroke-dasharray="5,4"/>
<line x1="845" y1="1416.4" x2="888.9" y2="1416.4"/>
<line x1="845" y1="1493.3" x2="888.9" y2="1493.3"/>
<rect x="823.7" y="1421.5" width="86.5" height="58" fill="#CCFF00"/>
</g>
<line x1="823.7" y1="1437.3" x2="910.2" y2="1437.3" stroke="#000" stroke-width="3.2"/>
<g stroke="#222" stroke-width="1.2">
<line x1="975.2" y1="1331.7" x2="975.2" y2="1342.6" stroke-dasharray="5,4"/>
<line x1="975.2" y1="1373.2" x2="975.2" y2="1377.9" stroke-dasharray="5,4"/>
<line x1="953.5" y1="1331.7" x2="997" y2="1331.7"/>
<line x1="953.5" y1="1377.9" x2="997" y2="1377.9"/>
<rect x="931.8" y="1342.6" width="86.9" height="30.6" fill="#00FF66"/>
</g>
<line x1="931.8" y1="1356" x2="1018.7" y2="1356" stroke="#000" stroke-width="3.2"/>
<g stroke="#222" stroke-width="1.2">
<line x1="1083.5" y1="1333.3" x2="1083.5" y2="1339" stroke-dasharray="5,4"/>
<line x1="1083.5" y1="1375" x2="1083.5" y2="1411.2" stroke-dasharray="5,4"/>
<line x1="1062" y1="1333.3" x2="1105.2" y2="1333.3"/>
<line x1="1062" y1="1411.2" x2="1105.2" y2="1411.2"/>
<rect x="1040.5" y="1339" width="86.5" height="36" fill="#0066FF"/>
</g>
<line x1="1040.5" y1="1345.4" x2="1127" y2="1345.4" stroke="#000" stroke-width="3.2"/>
<g stroke="#222" stroke-width="1.2">
<line x1="1192.3" y1="1092.3" x2="1192.3" y2="1095.4" stroke-dasharray="5,4"/>
<line x1="1192.3" y1="1123.4" x2="1192.3" y2="1145.1" stroke-dasharray="5,4"/>
<line x1="1170.3" y1="1092.3" x2="1214.2" y2="1092.3"/>
<line x1="1170.3" y1="1145.1" x2="1214.2" y2="1145.1"/>
<rect x="1148.7" y="1095.4" width="86.8" height="28" fill="#CC00FF"/>
</g>
<line x1="1148.7" y1="1109.8" x2="1235.5" y2="1109.8" stroke="#000" stroke-width="3.2"/>
</svg></body></html>
